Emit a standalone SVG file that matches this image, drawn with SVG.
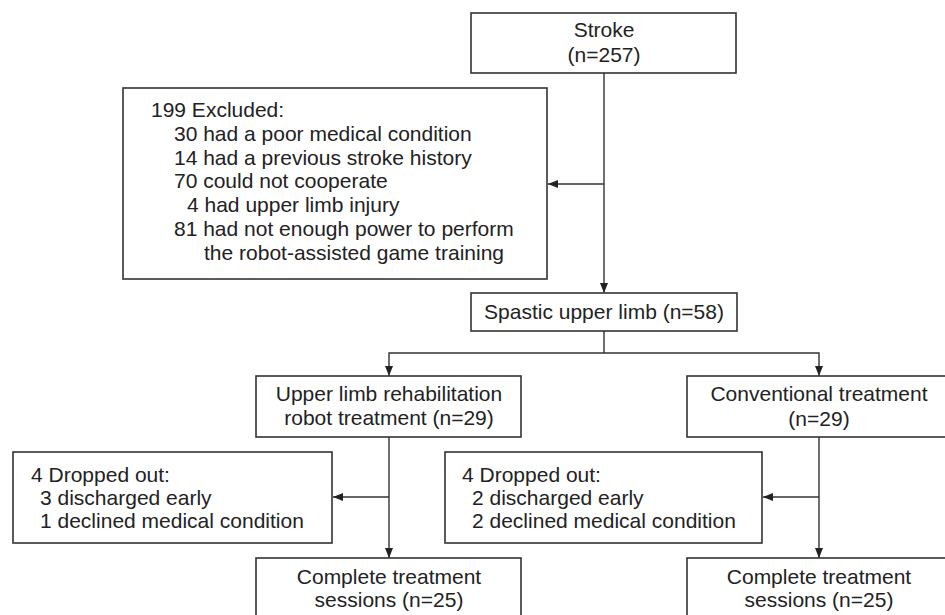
<svg xmlns="http://www.w3.org/2000/svg" width="945" height="615" viewBox="0 0 945 615">
<style>
.box{fill:#fff;stroke:#333;stroke-width:1.6}
.t{font-family:"Liberation Sans",Arial,sans-serif;font-size:21px;fill:#222}
.c{text-anchor:middle}
.ln{fill:none;stroke:#333;stroke-width:1.4}
</style>
<defs>
<marker id="ah" markerUnits="userSpaceOnUse" markerWidth="10" markerHeight="10" viewBox="0 0 10 10" refX="10" refY="5" orient="auto">
<path d="M0,1 L10,5 L0,9 Z" fill="#222"/>
</marker>
</defs>
<rect width="945" height="615" fill="#fff"/>
<g id="connectors">
<line class="ln" x1="604" y1="73" x2="604" y2="293" marker-end="url(#ah)"/>
<line class="ln" x1="604" y1="184" x2="548" y2="184" marker-end="url(#ah)"/>
<polyline class="ln" points="604,331 604,353"/>
<polyline class="ln" points="604,353 389,353 389,376" marker-end="url(#ah)"/>
<polyline class="ln" points="604,353 819,353 819,376" marker-end="url(#ah)"/>
<line class="ln" x1="389" y1="437" x2="389" y2="558" marker-end="url(#ah)"/>
<line class="ln" x1="389" y1="497" x2="333" y2="497" marker-end="url(#ah)"/>
<line class="ln" x1="819" y1="437" x2="819" y2="558" marker-end="url(#ah)"/>
<line class="ln" x1="819" y1="497" x2="763" y2="497" marker-end="url(#ah)"/>
</g>
<g id="stroke">
<rect class="box" x="471" y="13" width="265" height="60"/>
<text class="t c" x="604" y="37">Stroke</text>
<text class="t c" x="604" y="62">(n=257)</text>
</g>
<g id="excluded">
<rect class="box" x="123" y="88" width="424" height="191"/>
<text class="t" x="151" y="117">199 Excluded:</text>
<text class="t" x="174" y="141">30 had a poor medical condition</text>
<text class="t" x="174" y="165">14 had a previous stroke history</text>
<text class="t" x="174" y="188">70 could not cooperate</text>
<text class="t" x="187" y="212">4 had upper limb injury</text>
<text class="t" x="174" y="236">81 had not enough power to perform</text>
<text class="t" x="204" y="260">the robot-assisted game training</text>
</g>
<g id="spastic">
<rect class="box" x="471" y="293" width="266" height="38"/>
<text class="t c" x="604" y="319">Spastic upper limb (n=58)</text>
</g>
<g id="robot">
<rect class="box" x="256" y="376" width="265" height="61"/>
<text class="t c" x="389" y="401">Upper limb rehabilitation</text>
<text class="t c" x="389" y="425">robot treatment (n=29)</text>
</g>
<g id="conventional">
<rect class="box" x="687" y="376" width="264" height="61"/>
<text class="t c" x="819" y="401">Conventional treatment</text>
<text class="t c" x="819" y="426">(n=29)</text>
</g>
<g id="dropout-left">
<rect class="box" x="13" y="452" width="319" height="91"/>
<text class="t" x="31" y="482">4 Dropped out:</text>
<text class="t" x="40" y="505">3 discharged early</text>
<text class="t" x="40" y="528">1 declined medical condition</text>
</g>
<g id="dropout-right">
<rect class="box" x="445" y="452" width="317" height="91"/>
<text class="t" x="462" y="482">4 Dropped out:</text>
<text class="t" x="472" y="505">2 discharged early</text>
<text class="t" x="472" y="528">2 declined medical condition</text>
</g>
<g id="complete-left">
<rect class="box" x="256" y="558" width="265" height="70"/>
<text class="t c" x="389" y="584">Complete treatment</text>
<text class="t c" x="389" y="607">sessions (n=25)</text>
</g>
<g id="complete-right">
<rect class="box" x="687" y="558" width="264" height="70"/>
<text class="t c" x="819" y="584">Complete treatment</text>
<text class="t c" x="819" y="607">sessions (n=25)</text>
</g>
</svg>
